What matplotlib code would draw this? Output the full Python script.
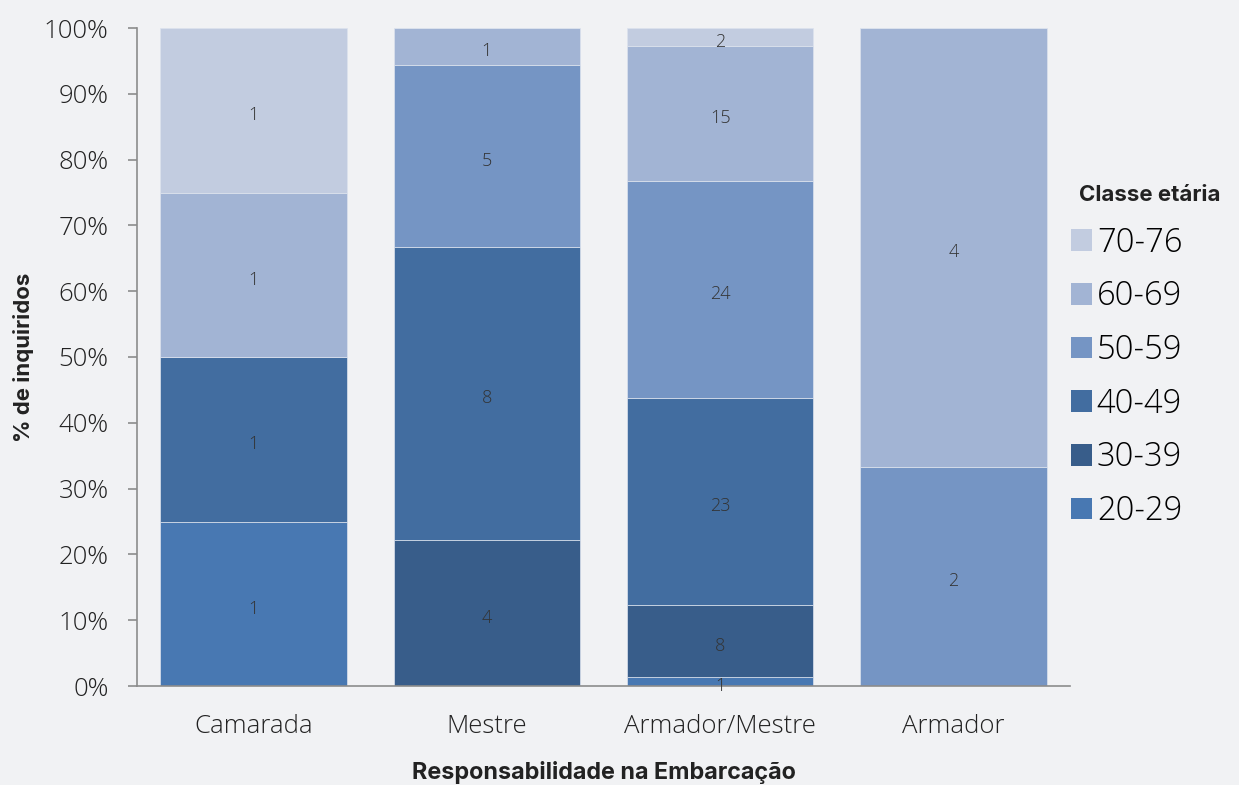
import numpy as np
import matplotlib.pyplot as plt
from matplotlib.patches import Patch

# data: respondents per age class, by role on the vessel
categorias = ["Camarada", "Mestre", "Armador/Mestre", "Armador"]
classes = ["20-29", "30-39", "40-49", "50-59", "60-69", "70-76"]
n_20_29 = [1, 0, 1, 0]
n_30_39 = [0, 4, 8, 0]
n_40_49 = [1, 8, 23, 0]
n_50_59 = [0, 5, 24, 2]
n_60_69 = [1, 1, 15, 4]
n_70_76 = [1, 0, 2, 0]

cores = ["#4878b2", "#385d8a", "#426da0", "#7595c4", "#a2b4d4", "#c2cce0"]
fundo = "#f1f2f4"

contagens = np.array([n_20_29, n_30_39, n_40_49, n_50_59, n_60_69, n_70_76], dtype=float)
totais = contagens.sum(axis=0)
pct = contagens / totais * 100

fig = plt.figure(figsize=(12.39, 7.85), dpi=100, facecolor=fundo)
ax = fig.add_axes([137 / 1239, 1 - 686 / 785, 933 / 1239, 658 / 785])
ax.set_facecolor(fundo)

x = np.arange(len(categorias))
base = np.zeros(len(categorias))
for i, classe in enumerate(classes):
    ax.bar(x, pct[i], 0.8, bottom=base, color=cores[i],
           edgecolor="#dde3ee", linewidth=0.5)
    for j in range(len(categorias)):
        if contagens[i, j] > 0:
            ax.annotate(f"{int(contagens[i, j])}", xy=(x[j], base[j] + pct[i, j] / 2),
                        xytext=(0, -3.5), textcoords="offset points",
                        ha="center", va="center", fontsize=13, color="#333333",
                        family="Open Sans", fontweight="light")
    base += pct[i]

ax.set_xlim(-0.5, 3.5)
ax.set_ylim(0, 100)
ax.set_yticks(np.arange(0, 101, 10))
ax.set_yticklabels([f"{v}%" for v in range(0, 101, 10)])
ax.set_xticks(x)
ax.set_xticklabels(categorias)

for s in ["top", "right"]:
    ax.spines[s].set_visible(False)
for s in ["left", "bottom"]:
    ax.spines[s].set_color("#8c8c8c")
    ax.spines[s].set_linewidth(1.2)
ax.tick_params(axis="y", length=6.5, width=1.2, color="#8c8c8c", pad=14)
ax.tick_params(axis="x", length=0, pad=20)
for lab in ax.get_yticklabels() + ax.get_xticklabels():
    lab.set_family("Open Sans")
    lab.set_fontweight("light")
    lab.set_fontsize(18.5)
    lab.set_color("#222222")

ax.set_ylabel("% de inquiridos", fontsize=16, fontweight="bold", family="Inter",
              color="#222222", labelpad=7)
ax.set_xlabel("Responsabilidade na Embarcação", fontsize=16.8, fontweight="bold",
              family="Inter", color="#222222", labelpad=16)

# legend, darkest class at the bottom
handles = [Patch(facecolor=cores[i], label=classes[i]) for i in range(len(classes) - 1, -1, -1)]
leg = ax.legend(handles=handles, loc="upper left",
                bbox_to_anchor=(934 / 933, 1 - 198 / 658), frameon=False,
                prop={"family": "Open Sans", "weight": "light", "size": 23.5},
                handlelength=0.64, handleheight=0.64, handletextpad=0.15,
                labelspacing=0.62, borderaxespad=0.0, borderpad=0.0)
fig.text(1079 / 1239, 1 - 195 / 785, "Classe etária", fontsize=16, fontweight="bold",
         family="Inter", color="#222222", ha="left", va="center")

fig.savefig("out.png", dpi=100, facecolor=fundo)
